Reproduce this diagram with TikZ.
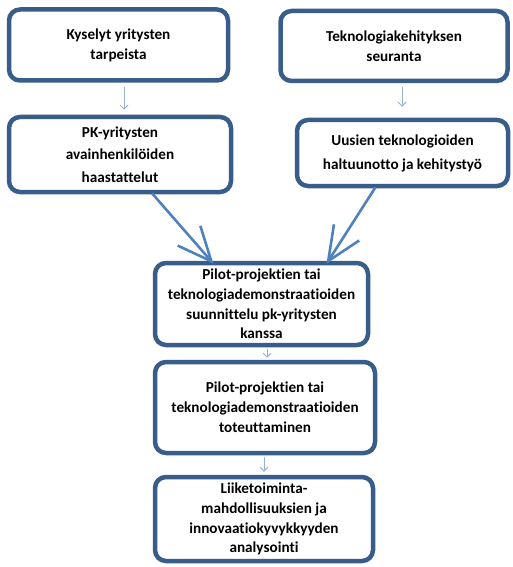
\documentclass[tikz,border=0pt]{standalone}
\usepackage{fontspec}
\setmainfont{Carlito}[Ligatures=NoCommon]
\usetikzlibrary{arrows.meta,calc}
\definecolor{boxblue}{RGB}{56,93,138}
\definecolor{arrblue}{RGB}{79,129,189}
\definecolor{thinblue}{RGB}{149,179,215}
\tikzset{
  box/.style={draw=boxblue, line width=4.5pt, rounded corners=11pt, fill=white,
    align=center, font=\fontsize{15.2}{19.8}\selectfont\bfseries, inner sep=0pt},
  thinarrow/.style={draw=thinblue, line width=1pt, -{Straight Barb[length=4pt,width=8pt]}},
  bigarrow/.style={draw=arrblue, line width=2.6pt, -{Straight Barb[length=34pt,width=30pt,line width=2.6pt]}}
}
\begin{document}
\begin{tikzpicture}[x=1pt,y=-1pt]
\useasboundingbox (0,0) rectangle (513,567);
\node[box, minimum width=219pt, minimum height=71pt] (b1) at (118.5,45) {Kyselyt yritysten\\tarpeista};
\node[box, minimum width=227pt, minimum height=70pt] (b2) at (394,46) {Teknologiakehityksen\\seuranta};
\node[box, minimum width=222pt, minimum height=75pt, font=\fontsize{15.2}{22.5}\selectfont\bfseries] (b3) at (120,154.5) {PK-yritysten\\avainhenkilöiden\\haastattelut};
\node[box, minimum width=211pt, minimum height=66pt, font=\fontsize{15.2}{24}\selectfont\bfseries] (b4) at (402.5,153) {Uusien teknologioiden\\haltuunotto ja kehitystyö};
\node[box, minimum width=213pt, minimum height=82pt] (b5) at (261.5,304) {Pilot-projektien tai\\teknologiademonstraatioiden\\suunnittelu pk-yritysten\\kanssa};
\node[box, minimum width=220pt, minimum height=91pt] (b6) at (265,407.5) {Pilot-projektien tai\\teknologiademonstraatioiden\\toteuttaminen};
\node[box, minimum width=218pt, minimum height=84pt] (b7) at (264,519) {Liiketoiminta-\\mahdollisuuksien ja\\innovaatiokyvykkyyden\\analysointi};
\draw[thinarrow] ([xshift=5.5pt,yshift=-4pt]b1.south) -- ([xshift=4pt,yshift=5pt]b3.north);
\draw[thinarrow] ([xshift=8pt,yshift=-4pt]b2.south) -- ([xshift=-0.5pt,yshift=11pt]b4.north);
\draw[bigarrow] ([xshift=32pt,yshift=1pt]b3.south) -- ([xshift=-48pt,yshift=-3pt]b5.north);
\draw[bigarrow] ([xshift=-27pt,yshift=1pt]b4.south) -- ([xshift=65pt,yshift=-3pt]b5.north);
\draw[thinarrow] ([xshift=5.5pt,yshift=-2pt]b5.south) -- ([xshift=2pt,yshift=2pt]b6.north);
\draw[thinarrow] ([xshift=-1pt,yshift=-2pt]b6.south) -- ([xshift=0pt,yshift=3pt]b7.north);
\end{tikzpicture}
\end{document}
